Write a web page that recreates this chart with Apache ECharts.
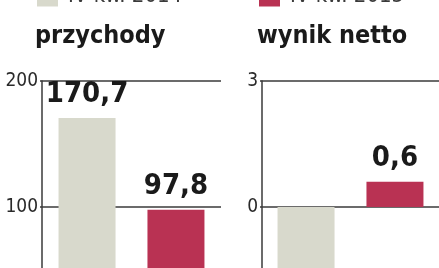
<!DOCTYPE html>
<html>
<head>
<meta charset="utf-8">
<script src="https://cdn.jsdelivr.net/npm/echarts@6/dist/echarts.min.js"></script>
<style>
html,body{margin:0;padding:0;background:#fff;}
#c{width:439px;height:268px;}
</style>
</head>
<body>
<div id="c"></div>
<script>
// Panels (categories)
const panels = ["przychody", "wynik netto"];
// Series (legend) names
const seriesNames = ["IV kw. 2014", "IV kw. 2015"];
// Values per panel: [przychody, wynik netto]
const values2014 = [170.7, -2.2];
const values2015 = [97.8, 0.6];
// Axis ranges / ticks per panel
const axisMin = [0, -3];
const axisMax = [200, 3];
const axisInterval = [100, 3];

const colors = ["#d8d9cc", "#b93253"];
const FONT = "'DejaVu Sans Condensed', 'Liberation Sans Narrow', sans-serif";

const fmt = v => String(v).replace('.', ',');

const grids = [
  {left: 42, width: 179, top: 81, height: 252, outerBoundsMode: 'none', containLabel: false},
  {left: 262, width: 177, top: 81, height: 252, outerBoundsMode: 'none', containLabel: false}
];

const xAxes = panels.map((p, i) => ({
  type: 'category', gridIndex: i, data: [p], show: false
}));

const yAxes = panels.map((p, i) => ({
  type: 'value', gridIndex: i, min: axisMin[i], max: axisMax[i], interval: axisInterval[i],
  axisLine: {show: true, lineStyle: {color: '#3a3a3a', width: 1.5}},
  axisTick: {show: true, length: 2, lineStyle: {color: '#3a3a3a', width: 1.5}},
  splitLine: {show: true, lineStyle: {color: '#3a3a3a', width: 1.5}},
  axisLabel: {
    fontFamily: FONT, fontSize: 19, color: '#2a2a2a', margin: 4,
    padding: [0, 0, 5, 0]
  }
}));

const series = [];
panels.forEach((p, i) => {
  [values2014, values2015].forEach((vals, s) => {
    series.push({
      name: seriesNames[s],
      type: 'bar',
      xAxisIndex: i, yAxisIndex: i,
      barWidth: 57, barGap: '56%',
      itemStyle: {color: colors[s]},
      label: {
        show: true, position: vals[i] >= 0 ? 'top' : 'bottom', distance: 9,
        fontFamily: FONT, fontWeight: 'bold', fontSize: 29, color: '#1a1a1a',
        formatter: o => fmt(o.value)
      },
      data: [vals[i]]
    });
  });
});

const chart = echarts.init(document.getElementById('c'), null, {renderer: 'canvas'});
chart.setOption({
  animation: false,
  backgroundColor: '#ffffff',
  title: [
    {text: panels[0], left: 30, top: 19, textStyle: {fontFamily: FONT, fontWeight: 'bold', fontSize: 25, color: '#1a1a1a'}},
    {text: panels[1], left: 252, top: 19, textStyle: {fontFamily: FONT, fontWeight: 'bold', fontSize: 25, color: '#1a1a1a'}}
  ],
  legend: [
    {data: [seriesNames[0]], left: 32, top: -20, icon: 'rect', itemWidth: 21, itemHeight: 21, itemGap: 15,
     textStyle: {fontFamily: FONT, fontSize: 22, color: '#3a3a3a', padding: [0, 0, 0, 5]}, selectedMode: false},
    {data: [seriesNames[1]], left: 254, top: -20, icon: 'rect', itemWidth: 21, itemHeight: 21, itemGap: 15,
     textStyle: {fontFamily: FONT, fontSize: 22, color: '#3a3a3a', padding: [0, 0, 0, 5]}, selectedMode: false}
  ],
  grid: grids,
  xAxis: xAxes,
  yAxis: yAxes,
  series: series
});
</script>
</body>
</html>
